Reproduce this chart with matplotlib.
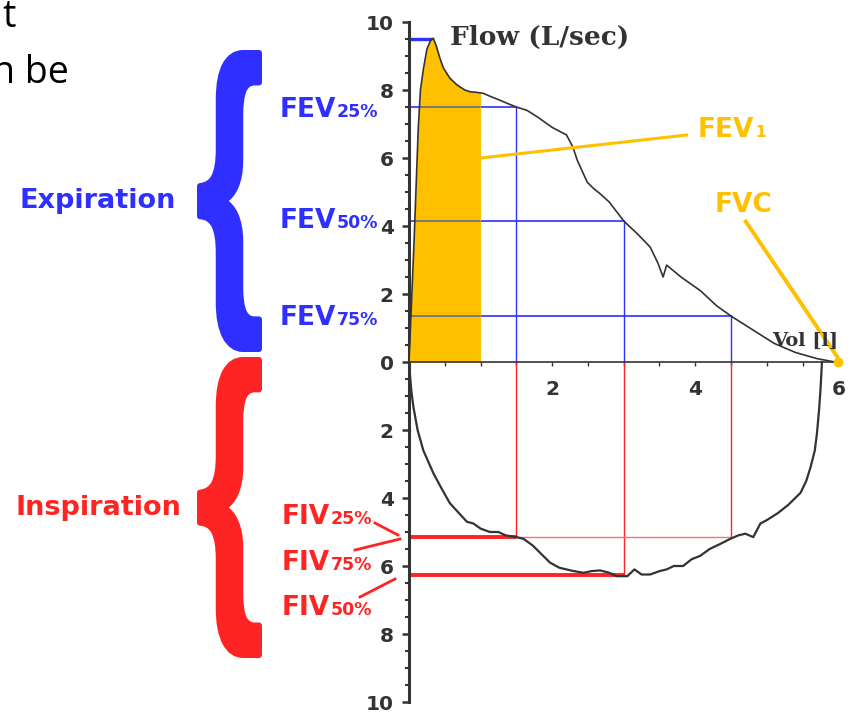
"""Flow-volume loop with FEV / FIV markers."""
import matplotlib
matplotlib.use("Agg")
import matplotlib.pyplot as plt
import numpy as np
from matplotlib.lines import Line2D
from matplotlib.patches import PathPatch
from matplotlib.textpath import TextPath
from matplotlib.font_manager import FontProperties
from matplotlib.transforms import Affine2D
from matplotlib.ticker import MultipleLocator, FixedLocator, FuncFormatter

W, H = 849, 717

# expiratory limb: volume (L) / flow (L/s)
exp_vol = [0.0, 0.03, 0.07, 0.10, 0.13, 0.16, 0.20, 0.25, 0.30, 0.34, 0.38,
           0.43, 0.48, 0.57, 0.67, 0.78, 0.85, 0.95, 1.04, 1.15, 1.27, 1.38,
           1.50, 1.65, 1.80, 2.00, 2.20, 2.29, 2.35, 2.49, 2.58, 2.67, 2.80,
           3.00, 3.20, 3.37, 3.48, 3.55, 3.60, 3.80, 4.07, 4.30, 4.50, 4.80,
           5.10, 5.40, 5.70, 5.95]
exp_flow = [0.0, 1.5, 3.5, 5.2, 6.9, 8.0, 8.6, 9.2, 9.45, 9.52, 9.3,
            8.95, 8.65, 8.35, 8.15, 8.0, 7.95, 7.93, 7.9, 7.8, 7.7, 7.6,
            7.5, 7.4, 7.2, 6.9, 6.68, 6.32, 5.94, 5.29, 5.1, 4.95, 4.7,
            4.15, 3.75, 3.38, 2.9, 2.5, 2.85, 2.5, 2.1, 1.65, 1.35, 0.95,
            0.55, 0.28, 0.1, 0.0]

# inspiratory limb (negative flow)
insp_vol = [0.0, 0.03, 0.06, 0.12, 0.20, 0.34, 0.45, 0.57, 0.70, 0.81, 0.90,
            1.00, 1.13, 1.25, 1.35, 1.50, 1.60, 1.73, 1.85, 1.97, 2.10, 2.20,
            2.30, 2.44, 2.55, 2.67, 2.80, 2.90, 3.05, 3.15, 3.25, 3.37, 3.50,
            3.60, 3.70, 3.83, 3.95, 4.07, 4.20, 4.35, 4.49, 4.60, 4.70, 4.81,
            4.91, 5.00, 5.15, 5.30, 5.47, 5.55, 5.61, 5.67, 5.70, 5.73, 5.75,
            5.77]
insp_flow = [0.0, -0.8, -1.3, -2.0, -2.6, -3.27, -3.7, -4.15, -4.45, -4.7,
             -4.75, -4.9, -5.0, -5.0, -5.1, -5.15, -5.2, -5.4, -5.65, -5.9,
             -6.05, -6.1, -6.15, -6.2, -6.15, -6.13, -6.2, -6.3, -6.3, -6.1,
             -6.25, -6.25, -6.15, -6.1, -6.0, -6.0, -5.8, -5.7, -5.5, -5.35,
             -5.2, -5.1, -5.05, -5.15, -4.75, -4.65, -4.45, -4.2, -3.85, -3.5,
             -3.1, -2.6, -2.1, -1.4, -0.8, 0.0]

pef = 9.5
pef_vol = 0.34
fev1_vol = 1.0
fvc = 6.0
mark_vol = [1.5, 3.0, 4.5]          # 25 / 50 / 75 % of FVC
fev_flow = [7.5, 4.15, 1.35]        # FEV25, FEV50, FEV75
fiv_flow = [-5.15, -6.26, -5.15]    # FIV25, FIV50, FIV75

BLUE = "#2F2FFF"
RED = "#FF2424"
YELLOW = "#FFC000"
DARK = "#333333"


def fxy(px, py):
    """pixel position (from top-left) -> figure fraction"""
    return px / W, 1 - py / H


fig = plt.figure(figsize=(W / 100, H / 100), dpi=100)
ax = fig.add_axes([409 / W, 1 - 702 / H, 433 / W, 680 / H])
ax.set_xlim(0, 6.05)
ax.set_ylim(-10, 10)
ax.patch.set_alpha(0)

# FEV1 shaded area
ev = np.array(exp_vol)
ef = np.array(exp_flow)
keep = ev < fev1_vol
fv = np.append(ev[keep], fev1_vol)
ff = np.append(ef[keep], np.interp(fev1_vol, ev, ef))

# expiratory markers (blue)
ax.plot([0, pef_vol], [pef, pef], color=BLUE, lw=2.4, zorder=2,
        solid_capstyle="butt")
for v, f in zip(mark_vol, fev_flow):
    ax.plot([0, v], [f, f], color=BLUE, lw=1.2, zorder=2)
    ax.plot([v, v], [f, 0], color=BLUE, lw=1.0, zorder=2)

fill = ax.fill_between(fv, 0, ff, color=YELLOW, lw=0, zorder=3)
clip = (fill.get_paths()[0], ax.transData)
for f in fev_flow:
    ln, = ax.plot([0, fev1_vol], [f, f], color="#7a7a7a", lw=1.4, zorder=4)
    ln.set_clip_path(*clip)

# inspiratory markers (red)
for v, f in zip(mark_vol, fiv_flow):
    ax.plot([v, v], [0, f], color=RED, lw=1.0, zorder=2)
ax.plot([0, mark_vol[2]], [fiv_flow[2], fiv_flow[2]], color="#ff7070",
        lw=1.0, zorder=2)
ax.plot([0, mark_vol[0]], [fiv_flow[0], fiv_flow[0]], color=RED, lw=2.8,
        zorder=2, solid_capstyle="butt")
ax.plot([0, mark_vol[1]], [fiv_flow[1], fiv_flow[1]], color=RED, lw=2.8,
        zorder=2, solid_capstyle="butt")

# loop
ax.plot(exp_vol, exp_flow, color=DARK, lw=1.2, zorder=5)
ax.plot(insp_vol, insp_flow, color=DARK, lw=1.6, zorder=5)

# FEV1 / FVC leaders
ax.plot([fev1_vol, 3.9], [6.0, 6.68], color=YELLOW, lw=2.2, zorder=6,
        solid_capstyle="butt")
ax.plot([4.69, fvc], [4.18, 0.1], color=YELLOW, lw=2.8, zorder=6,
        clip_on=False, solid_capstyle="butt")
ax.plot([fvc], [0], "o", color=YELLOW, ms=6, zorder=7, clip_on=False)

# axes
for s in ("top", "right"):
    ax.spines[s].set_visible(False)
ax.spines["left"].set_linewidth(2.2)
ax.spines["left"].set_color(DARK)
ax.spines["bottom"].set_position(("data", 0))
ax.spines["bottom"].set_linewidth(1.2)
ax.spines["bottom"].set_color(DARK)
ax.spines["bottom"].set_zorder(6)

ax.yaxis.set_major_locator(MultipleLocator(2))
ax.yaxis.set_minor_locator(MultipleLocator(0.5))
ax.yaxis.set_major_formatter(FuncFormatter(lambda v, p: f"{abs(v):.0f}"))
ax.xaxis.set_major_locator(FixedLocator([2, 4, 6]))
ax.xaxis.set_minor_locator(FixedLocator(np.arange(0.5, 6.01, 0.5)))
ax.tick_params(axis="y", which="major", length=5, width=1.8, color=DARK,
               pad=6, labelsize=14.5, labelcolor=DARK)
ax.tick_params(axis="y", which="minor", length=3, width=1.5, color=DARK)
ax.tick_params(axis="x", which="both", length=3, width=1.0, color=DARK,
               pad=10, labelsize=14.5, labelcolor=DARK)
for lab in ax.get_xticklabels() + ax.get_yticklabels():
    lab.set_fontweight("bold")

fig.text(*fxy(450, 45), "Flow (L/sec)", family="DejaVu Serif",
         fontweight="bold", fontsize=19, color=DARK, va="baseline")
fig.text(*fxy(772, 346), "Vol [l]", family="DejaVu Serif",
         fontweight="bold", fontsize=14, color=DARK, va="baseline")


def sub_label(px, py, main, sub, color, size=19, sub_size=12.5):
    t = fig.text(*fxy(px, py), main, color=color, fontsize=size,
                 fontweight="bold", va="baseline", ha="left")
    ax.annotate(sub, xy=(1, 0), xycoords=t,
                xytext=(0.5, 0.236 * (size - sub_size)),
                textcoords="offset points", color=color, fontsize=sub_size,
                fontweight="bold", va="bottom", ha="left")


sub_label(280, 117, "FEV", "25%", BLUE)
sub_label(280, 228, "FEV", "50%", BLUE)
sub_label(280, 325, "FEV", "75%", BLUE)
sub_label(282, 524, "FIV", "25%", RED)
sub_label(282, 570, "FIV", "75%", RED)
sub_label(282, 615, "FIV", "50%", RED)
sub_label(698, 137, "FEV", "1", YELLOW, size=19, sub_size=11)
fig.text(*fxy(715, 212), "FVC", color=YELLOW, fontsize=19,
         fontweight="bold", va="baseline")

# FIV leaders
for (x1, y1), (x2, y2) in [((375, 523), (398, 535)),
                           ((355, 550), (400, 539)),
                           ((360, 597), (395, 579))]:
    fig.add_artist(Line2D([x1 / W, x2 / W], [1 - y1 / H, 1 - y2 / H],
                          color=RED, lw=2.0, transform=fig.transFigure))

fig.text(*fxy(20, 208), "Expiration", color=BLUE, fontsize=19.5,
         fontweight="bold", va="baseline")
fig.text(*fxy(15, 515), "Inspiration", color=RED, fontsize=19.5,
         fontweight="bold", va="baseline")


def brace(x0, y0, x1, y1, color, edge=6):
    """bold '{' glyph stretched into a pixel box, thickened by an outline"""
    tp = TextPath((0, 0), "{", size=100,
                  prop=FontProperties(family="Liberation Sans", weight="bold"))
    ext = tp.get_extents()
    h = edge / 2
    tr = (Affine2D().translate(-ext.x0, -ext.y0)
          .scale((x1 - x0 - edge) / ext.width / W,
                 (y1 - y0 - edge) / ext.height / H)
          .translate((x0 + h) / W, 1 - (y1 - h) / H))
    fig.add_artist(PathPatch(tr.transform_path(tp), facecolor=color,
                             edgecolor=color, lw=edge * 0.72,
                             joinstyle="round", transform=fig.transFigure))


brace(197, 50, 262, 352, BLUE)
brace(197, 357, 262, 658, RED)

# slide text running in from the left
fig.text(*fxy(16, 27), "t", family="Open Sans", fontsize=27, color="black",
         ha="right", va="baseline")
fig.text(*fxy(69, 83), "n be", family="Open Sans", fontsize=27, color="black",
         ha="right", va="baseline")

fig.savefig("out.png", dpi=100)
